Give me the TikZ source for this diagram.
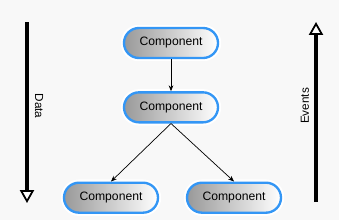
\documentclass[tikz,border=0pt]{standalone}
\usepackage{fontspec}
\setmainfont{Liberation Sans}
\usetikzlibrary{arrows.meta, positioning}
\definecolor{compblue}{RGB}{51,150,245}
\definecolor{bgpaper}{RGB}{248,248,248}

\begin{document}
\begin{tikzpicture}[
  x=0.03cm, y=-0.03cm,
  font=\fontsize{10.4}{12}\selectfont,
  node distance=9.6mm,
  comp/.style={rectangle, rounded corners=4.5mm, draw=compblue, line width=2pt,
               left color=black!40, right color=white,
               minimum width=28.2mm, minimum height=9mm, inner sep=2pt,
               preaction={draw=white, line width=5.5pt}},
  link/.style={-{Stealth[length=5pt, width=4pt]}, line width=0.6pt},
  flow/.style={line width=2.6pt,
               -{Triangle[fill=white, length=11pt, width=12pt, line width=1.5pt]}},
  lbl/.style={font=\fontsize{10}{12}\selectfont},
]
% page with its margins
\fill [bgpaper] (0,0) rectangle (339,220);
\useasboundingbox (0,0) rectangle (339,220);

\node (top)   [comp] at (171,43) {Component};
\node (mid)   [comp, below=of top] {Component};
\node (left)  [comp, below=17.4mm of mid, xshift=-18mm] {Component};
\node (right) [comp, below=17.4mm of mid, xshift=18.9mm] {Component};

% edges
\draw [link] (top) -- (mid);
\foreach \b in {left,right}
  \draw [link] (mid.south) -- (\b.north);

% side arrows
\coordinate (datatop) at (27,22);
\coordinate (databot) at (27,203);
\coordinate (evtbot)  at (316,202);
\coordinate (evttop)  at (316,22);
\draw [flow] (datatop) -- (databot);
\draw [flow] (evtbot) -- (evttop);
\node [lbl, rotate=-90] at (39,106) {Data};
\node [lbl, rotate=90]  at (305,106) {Events};
\end{tikzpicture}
\end{document}
